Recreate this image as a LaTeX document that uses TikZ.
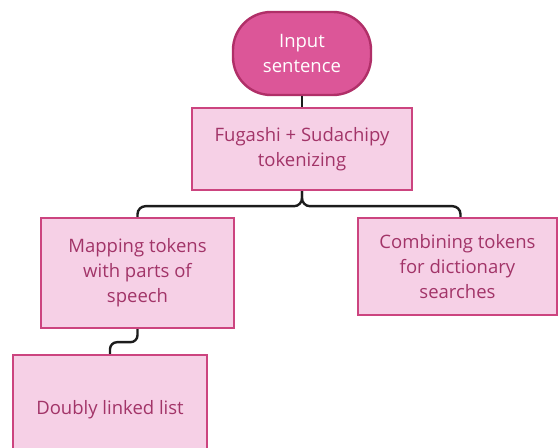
\documentclass[tikz,border=0pt]{standalone}
\usepackage{fontspec}
\setmainfont{Open Sans}
\usetikzlibrary{positioning}
\definecolor{startfill}{HTML}{DC5698}
\definecolor{startline}{HTML}{B02F68}
\definecolor{boxfill}{HTML}{F6D0E6}
\definecolor{boxline}{HTML}{CC447F}
\definecolor{boxtext}{HTML}{A23468}
\definecolor{wire}{HTML}{1C1C1C}
\begin{document}
\begin{tikzpicture}[x=1pt,y=1pt,
  every node/.style={font=\fontsize{18.5}{25}\selectfont, align=center, inner sep=0pt},
  startnode/.style={draw=startline, fill=startfill, text=white, line width=2.4pt,
    rounded corners=38pt, minimum width=138pt, minimum height=83pt},
  stepbox/.style={draw=boxline, fill=boxfill, text=boxtext, line width=2.4pt},
  conn/.style={draw=wire, line width=2.4pt, rounded corners=8pt}]
  \useasboundingbox (0,0) rectangle (558,448);
  \clip (0,0) rectangle (558,448);

  % nodes
  \node[startnode] (input) at (302,394.5) {Input\\sentence};
  \node[stepbox, minimum width=220pt, minimum height=82pt] (fug) at (302,299)
    {Fugashi + Sudachipy\\tokenizing};
  \node[stepbox, minimum width=193pt, minimum height=110pt] (map) at (137.5,175)
    {Mapping tokens\\with parts of\\speech};
  \node[stepbox, minimum width=199pt, minimum height=97pt] (comb) at (457.5,181.5)
    {Combining tokens\\for dictionary\\searches};
  \node[stepbox, minimum width=194pt, minimum height=110pt] (dbl) at (110,38)
    {Doubly linked list};

  % connectors
  \draw[conn] (input.south) -- (fug.north);
  \draw[conn] (fug.south) -- ++(0,-15) -| (map.north);
  \draw[conn] (fug.south) -- ++(0,-15) -| ([xshift=3pt]comb.north);
  \draw[conn, rounded corners=7pt] (map.south) -- ++(0,-13) -| (dbl.north);
\end{tikzpicture}
\end{document}
